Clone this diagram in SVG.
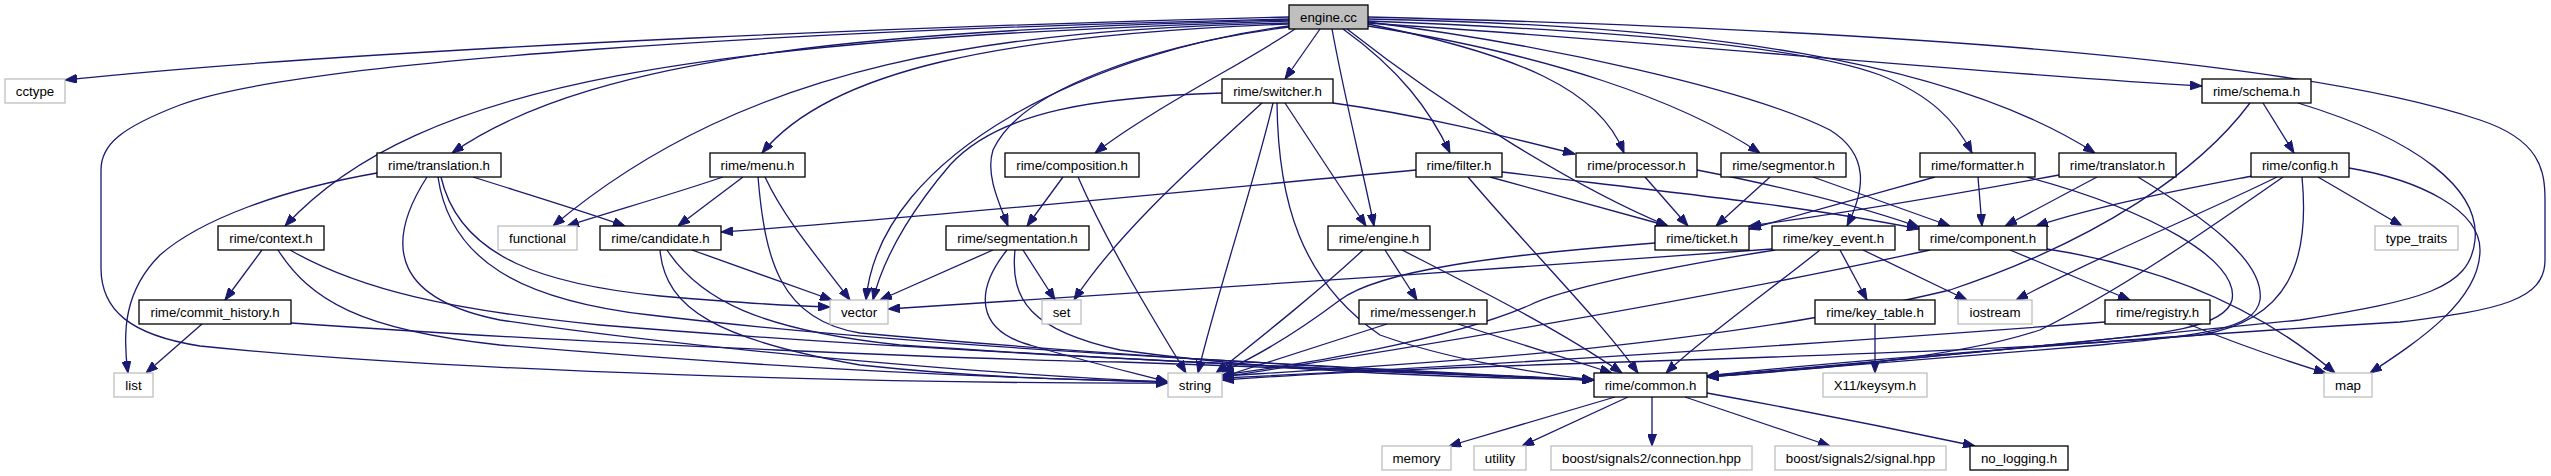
<svg xmlns="http://www.w3.org/2000/svg" width="2551" height="476" viewBox="0 0 2551 476">
<style>
.e{fill:none;stroke:#191970;stroke-width:1.3;marker-end:url(#a)}
.n rect{fill:#fff;stroke:#000;stroke-width:1.3}
.g rect{fill:#fff;stroke:#bfbfbf;stroke-width:1.3}
text{font-family:"Liberation Sans",Arial,sans-serif;font-size:13.3px;fill:#000;text-anchor:middle}
</style>
<defs>
<marker id="a" markerUnits="userSpaceOnUse" markerWidth="12" markerHeight="9" refX="12" refY="4.5" orient="auto"><path d="M0,0 L12,4.5 L0,9 z" fill="#191970" stroke="#191970" stroke-width="1"/></marker>
</defs>
<rect width="2551" height="476" fill="#fff"/>
<g id="edges">
<path class="e" d="M1289,17 C1000,24 400,45 65,80"/>
<path class="e" d="M1289,19 C800,30 300,60 180,105 C120,128 101,145 101,170 L101,268 C101,310 130,335 200,346 C450,372 900,384 1168,383"/>
<path class="e" d="M1289,21 C700,40 420,80 285,226"/>
<path class="e" d="M1289,20 C900,30 600,50 452,153"/>
<path class="e" d="M1289,23 C1000,30 750,60 553,226"/>
<path class="e" d="M1289,24 C1000,35 830,70 762,153"/>
<path class="e" d="M1289,26 C1100,50 880,150 866,300"/>
<path class="e" d="M1289,27 C1150,45 1020,90 993,150 C985,175 1000,205 1008,226"/>
<path class="e" d="M1295,29 C1250,60 1150,110 1095,153"/>
<path class="e" d="M1320,29 L1285,79"/>
<path class="e" d="M1332,29 C1345,100 1365,180 1374,226"/>
<path class="e" d="M1343,29 C1400,70 1430,110 1450,153"/>
<path class="e" d="M1347,29 C1450,110 1580,190 1668,226"/>
<path class="e" d="M1368,24 C1520,55 1600,90 1624,153"/>
<path class="e" d="M1368,26 C1550,55 1680,100 1760,153"/>
<path class="e" d="M1368,22 C1550,45 1750,90 1830,130 C1870,155 1865,190 1847,226"/>
<path class="e" d="M1368,21 C1600,30 1800,45 1880,75 C1930,95 1955,120 1972,153"/>
<path class="e" d="M1368,19 C1700,25 1950,60 2095,153"/>
<path class="e" d="M1368,23 C1700,45 2000,75 2202,86"/>
<path class="e" d="M1368,17 C1900,30 2300,60 2480,120 C2540,140 2545,170 2545,200 L2545,260 C2545,300 2500,310 2400,322 C2100,340 1800,365 1707,376"/>
<path class="e" d="M1222,93 C1100,97 1000,110 950,165 C920,200 885,250 873,300"/>
<path class="e" d="M1333,103 C1420,115 1500,135 1575,154"/>
<path class="e" d="M1285,103 L1366,226"/>
<path class="e" d="M1262,103 C1200,160 1120,230 1074,300"/>
<path class="e" d="M1273,103 C1255,180 1215,300 1198,373"/>
<path class="e" d="M1277,103 C1278,200 1300,280 1380,335 C1450,360 1530,372 1594,380"/>
<path class="e" d="M1063,177 L1027,226"/>
<path class="e" d="M1078,177 C1110,250 1160,330 1186,373"/>
<path class="e" d="M993,250 L880,300"/>
<path class="e" d="M1023,250 L1055,300"/>
<path class="e" d="M1007,250 C975,290 975,330 1030,345 C1080,360 1130,372 1168,382"/>
<path class="e" d="M1015,250 C1010,300 1030,330 1120,350 C1300,375 1500,378 1594,380"/>
<path class="e" d="M1385,250 L1417,300"/>
<path class="e" d="M1363,250 C1320,290 1270,330 1216,373"/>
<path class="e" d="M1402,250 C1480,290 1560,330 1622,373"/>
<path class="e" d="M1387,324 C1320,345 1260,365 1222,377"/>
<path class="e" d="M1458,324 L1612,373"/>
<path class="e" d="M1416,170 C1200,190 900,220 721,232"/>
<path class="e" d="M1490,177 L1668,226"/>
<path class="e" d="M1502,172 C1650,190 1800,205 1919,229"/>
<path class="e" d="M1468,177 C1530,250 1600,320 1638,373"/>
<path class="e" d="M1645,177 L1688,226"/>
<path class="e" d="M1697,170 C1800,190 1870,210 1919,227"/>
<path class="e" d="M1770,177 L1716,226"/>
<path class="e" d="M1813,177 L1950,226"/>
<path class="e" d="M1935,177 C1870,195 1800,215 1749,229"/>
<path class="e" d="M1978,177 L1982,226"/>
<path class="e" d="M2027,177 C2150,210 2240,260 2232,300 C2225,330 2150,335 2050,345 C1900,360 1780,370 1707,376"/>
<path class="e" d="M2059,175 C1950,195 1830,215 1749,226"/>
<path class="e" d="M2097,177 L2005,226"/>
<path class="e" d="M2138,177 C2200,215 2265,260 2260,300 C2255,330 2200,335 2100,345 C1900,362 1780,372 1707,377"/>
<path class="e" d="M2252,176 C2180,190 2100,205 2036,226"/>
<path class="e" d="M2277,177 C2200,215 2100,255 2016,300"/>
<path class="e" d="M2283,177 C2200,235 2120,290 2040,330 C1950,360 1800,370 1707,377"/>
<path class="e" d="M2302,177 C2310,260 2290,320 2200,335 C1900,360 1500,360 1222,380"/>
<path class="e" d="M2318,177 L2402,226"/>
<path class="e" d="M2349,168 C2420,180 2480,210 2480,250 C2480,300 2420,340 2370,373"/>
<path class="e" d="M2263,103 L2294,153"/>
<path class="e" d="M2250,103 C2200,170 2100,240 1950,290 C1700,350 1400,365 1222,376"/>
<path class="e" d="M2298,103 C2420,140 2480,190 2475,240 C2470,290 2420,300 2300,320 C2050,345 1800,370 1707,377"/>
<path class="e" d="M1772,249 C1500,270 1100,295 888,309"/>
<path class="e" d="M1775,250 C1650,270 1560,290 1530,305 C1450,340 1300,365 1222,375"/>
<path class="e" d="M1820,250 C1770,290 1700,340 1666,373"/>
<path class="e" d="M1840,250 L1867,300"/>
<path class="e" d="M1863,250 L1967,300"/>
<path class="e" d="M1930,250 C1700,300 1400,350 1222,377"/>
<path class="e" d="M2010,250 L2130,300"/>
<path class="e" d="M2047,249 C2150,265 2250,300 2335,373"/>
<path class="e" d="M1655,243 C1500,255 1380,270 1340,300 C1300,330 1260,355 1222,372"/>
<path class="e" d="M1875,324 L1875,373"/>
<path class="e" d="M2105,322 C1800,345 1500,365 1222,378"/>
<path class="e" d="M2188,324 C2240,345 2290,362 2326,373"/>
<path class="e" d="M202,324 L146,373"/>
<path class="e" d="M291,323 C600,345 1000,360 1120,362 C1300,368 1500,376 1594,380"/>
<path class="e" d="M262,250 L225,300"/>
<path class="e" d="M278,250 C310,300 360,330 500,345 C800,370 1000,378 1168,382"/>
<path class="e" d="M290,250 C360,290 450,310 600,325 C900,350 1300,368 1594,380"/>
<path class="e" d="M377,173 C280,190 200,220 160,255 C125,290 122,330 128,373"/>
<path class="e" d="M473,177 C530,195 580,210 625,226"/>
<path class="e" d="M441,177 C460,260 550,285 660,296 C730,302 790,306 830,307"/>
<path class="e" d="M438,177 C450,260 520,300 650,315 C900,345 1200,360 1594,380"/>
<path class="e" d="M427,177 C380,250 400,300 500,320 C700,350 1000,375 1168,382"/>
<path class="e" d="M692,250 L832,300"/>
<path class="e" d="M660,250 C665,310 720,340 860,365 C980,378 1080,380 1168,382"/>
<path class="e" d="M667,250 C700,300 760,330 900,345 C1150,362 1400,372 1594,380"/>
<path class="e" d="M723,177 C670,195 610,212 567,226"/>
<path class="e" d="M743,177 L678,226"/>
<path class="e" d="M765,177 C785,220 820,260 850,300"/>
<path class="e" d="M758,177 C765,260 780,320 860,333 C1100,355 1400,372 1594,380"/>
<path class="e" d="M1615,397 L1449,446"/>
<path class="e" d="M1628,397 L1522,446"/>
<path class="e" d="M1652,397 L1652,446"/>
<path class="e" d="M1685,397 L1830,446"/>
<path class="e" d="M1707,393 C1800,410 1900,430 1975,446"/>
</g>
<g id="engine_cc" class="n"><rect x="1289" y="5" width="79" height="24" style="fill:#bfbfbf"/><text x="1328.5" y="21.5">engine.cc</text></g>
<g id="cctype" class="g"><rect x="5" y="79" width="60" height="24"/><text x="35" y="95.5">cctype</text></g>
<g id="switcher_h" class="n"><rect x="1222" y="79" width="111" height="24"/><text x="1277.5" y="95.5">rime/switcher.h</text></g>
<g id="schema_h" class="n"><rect x="2202" y="79" width="109" height="24"/><text x="2256.5" y="95.5">rime/schema.h</text></g>
<g id="translation_h" class="n"><rect x="377" y="153" width="124" height="24"/><text x="439" y="169.5">rime/translation.h</text></g>
<g id="menu_h" class="n"><rect x="710" y="153" width="95" height="24"/><text x="757.5" y="169.5">rime/menu.h</text></g>
<g id="composition_h" class="n"><rect x="1005" y="153" width="134" height="24"/><text x="1072" y="169.5">rime/composition.h</text></g>
<g id="filter_h" class="n"><rect x="1416" y="153" width="86" height="24"/><text x="1459" y="169.5">rime/filter.h</text></g>
<g id="processor_h" class="n"><rect x="1576" y="153" width="121" height="24"/><text x="1636.5" y="169.5">rime/processor.h</text></g>
<g id="segmentor_h" class="n"><rect x="1721" y="153" width="125" height="24"/><text x="1783.5" y="169.5">rime/segmentor.h</text></g>
<g id="formatter_h" class="n"><rect x="1920" y="153" width="115" height="24"/><text x="1977.5" y="169.5">rime/formatter.h</text></g>
<g id="translator_h" class="n"><rect x="2059" y="153" width="117" height="24"/><text x="2117.5" y="169.5">rime/translator.h</text></g>
<g id="config_h" class="n"><rect x="2251" y="153" width="98" height="24"/><text x="2300" y="169.5">rime/config.h</text></g>
<g id="context_h" class="n"><rect x="218" y="226" width="106" height="24"/><text x="271" y="242.5">rime/context.h</text></g>
<g id="functional" class="g"><rect x="498" y="226" width="79" height="24"/><text x="537.5" y="242.5">functional</text></g>
<g id="candidate_h" class="n"><rect x="600" y="226" width="121" height="24"/><text x="660.5" y="242.5">rime/candidate.h</text></g>
<g id="segmentation_h" class="n"><rect x="946" y="226" width="143" height="24"/><text x="1017.5" y="242.5">rime/segmentation.h</text></g>
<g id="engine_h" class="n"><rect x="1328" y="226" width="102" height="24"/><text x="1379" y="242.5">rime/engine.h</text></g>
<g id="ticket_h" class="n"><rect x="1655" y="226" width="94" height="24"/><text x="1702" y="242.5">rime/ticket.h</text></g>
<g id="key_event_h" class="n"><rect x="1772" y="226" width="123" height="24"/><text x="1833.5" y="242.5">rime/key_event.h</text></g>
<g id="component_h" class="n"><rect x="1919" y="226" width="128" height="24"/><text x="1983" y="242.5">rime/component.h</text></g>
<g id="type_traits" class="g"><rect x="2375" y="226" width="83" height="24"/><text x="2416.5" y="242.5">type_traits</text></g>
<g id="commit_history_h" class="n"><rect x="139" y="300" width="152" height="24"/><text x="215" y="316.5">rime/commit_history.h</text></g>
<g id="vector" class="g"><rect x="830" y="300" width="58" height="24"/><text x="859" y="316.5">vector</text></g>
<g id="set" class="g"><rect x="1042" y="300" width="39" height="24"/><text x="1061.5" y="316.5">set</text></g>
<g id="messenger_h" class="n"><rect x="1359" y="300" width="128" height="24"/><text x="1423" y="316.5">rime/messenger.h</text></g>
<g id="key_table_h" class="n"><rect x="1815" y="300" width="120" height="24"/><text x="1875" y="316.5">rime/key_table.h</text></g>
<g id="iostream" class="g"><rect x="1958" y="300" width="74" height="24"/><text x="1995" y="316.5">iostream</text></g>
<g id="registry_h" class="n"><rect x="2105" y="300" width="105" height="24"/><text x="2157.5" y="316.5">rime/registry.h</text></g>
<g id="list" class="g"><rect x="114" y="373" width="39" height="24"/><text x="133.5" y="389.5">list</text></g>
<g id="string" class="g"><rect x="1168" y="373" width="54" height="24"/><text x="1195" y="389.5">string</text></g>
<g id="common_h" class="n"><rect x="1594" y="373" width="113" height="24"/><text x="1650.5" y="389.5">rime/common.h</text></g>
<g id="keysym_h" class="g"><rect x="1823" y="373" width="104" height="24"/><text x="1875" y="389.5">X11/keysym.h</text></g>
<g id="map" class="g"><rect x="2324" y="373" width="48" height="24"/><text x="2348" y="389.5">map</text></g>
<g id="memory" class="g"><rect x="1382" y="446" width="69" height="24"/><text x="1416.5" y="462.5">memory</text></g>
<g id="utility" class="g"><rect x="1474" y="446" width="52" height="24"/><text x="1500" y="462.5">utility</text></g>
<g id="connection_hpp" class="g"><rect x="1551" y="446" width="201" height="24"/><text x="1651.5" y="462.5">boost/signals2/connection.hpp</text></g>
<g id="signal_hpp" class="g"><rect x="1775" y="446" width="171" height="24"/><text x="1860.5" y="462.5">boost/signals2/signal.hpp</text></g>
<g id="no_logging_h" class="n"><rect x="1970" y="446" width="98" height="24"/><text x="2019" y="462.5">no_logging.h</text></g>
</svg>
